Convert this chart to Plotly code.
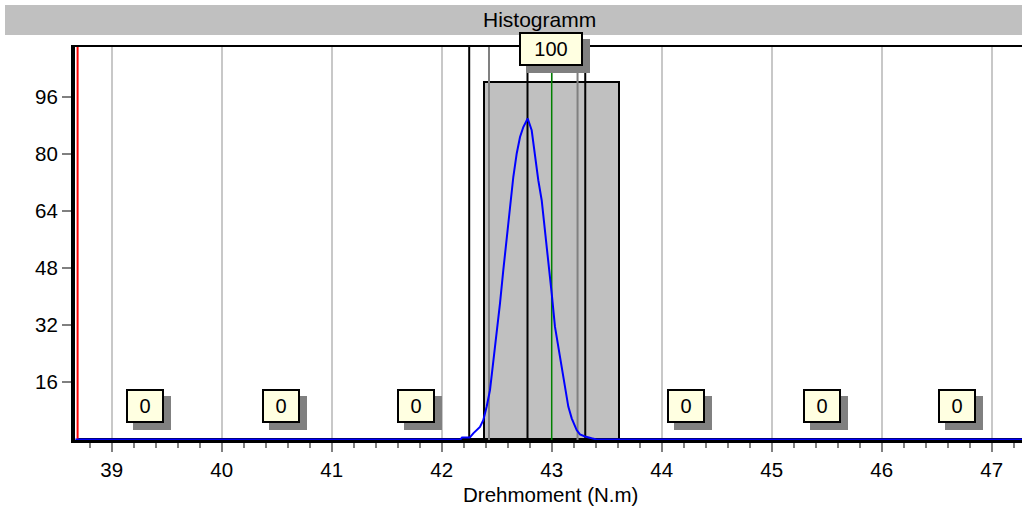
import plotly.graph_objects as go

# ---------------- data ----------------
bin_centers = [39.305, 40.535, 41.765, 42.995, 44.225, 45.455, 46.685]
counts = [0, 0, 0, 100, 0, 0, 0]
bin_width = 1.23

curve_x = [38.67, 42.17, 42.185, 42.255, 42.287, 42.348, 42.378, 42.409, 42.439, 42.469,
           42.50, 42.53, 42.56, 42.591, 42.621, 42.651, 42.682, 42.712, 42.742, 42.782,
           42.818, 42.848, 42.878, 42.909, 42.94, 42.97, 43.0, 43.03, 43.06, 43.091,
           43.121, 43.151, 43.182, 43.205, 43.227, 43.257, 43.303, 43.363, 43.408, 47.28]
curve_y = [0, 0, 0.5, 0.5, 1.7, 3.5, 5.4, 9.2, 13.8, 21.3,
           29.7, 38.1, 47.4, 56.7, 65.1, 73.5, 80.1, 84.7, 87.5, 89.9,
           86.6, 79.1, 72.6, 67.0, 58.6, 50.2, 40.9, 31.5, 25.9, 19.4,
           13.8, 9.2, 5.9, 4.0, 2.6, 1.4, 0.8, 0.3, 0, 0]

red_limit = 38.69
black_lines = [42.25, 42.78, 43.305]
gray_lines = [42.43, 43.235]
nominal = 43.0

x_ticks = [39, 40, 41, 42, 43, 44, 45, 46, 47]
y_ticks = [16, 32, 48, 64, 80, 96]

title_text = "Histogramm"
x_title = "Drehmoment (N.m)"

# ---------------- layout constants ----------------
W, H = 1022, 509
ML, MR, MT, MB = 75, 0, 46, 69
FONT = "Liberation Sans, Arial, sans-serif"
X_RANGE = [38.6664, 47.2755]
Y_RANGE = [-0.17, 110.2]
PW = W - ML - MR
PH = H - MT - MB


def px_to_paper_x(px):
    return (px - ML) / PW


def px_to_paper_y(py):
    return (H - MB - py) / PH


fig = go.Figure()

fig.add_trace(go.Bar(
    x=bin_centers, y=counts, width=bin_width,
    marker=dict(color="#C0C0C0", line=dict(color="black", width=2)),
    hoverinfo="skip", showlegend=False,
))

yl = [Y_RANGE[0] - 5, Y_RANGE[1] + 5]
for v in [red_limit]:
    fig.add_trace(go.Scatter(x=[v, v], y=yl, mode="lines",
                             line=dict(color="#FF0000", width=2),
                             hoverinfo="skip", showlegend=False))
for v in gray_lines:
    fig.add_trace(go.Scatter(x=[v, v], y=yl, mode="lines",
                             line=dict(color="#808080", width=2),
                             hoverinfo="skip", showlegend=False))
for v in black_lines:
    fig.add_trace(go.Scatter(x=[v, v], y=yl, mode="lines",
                             line=dict(color="black", width=2),
                             hoverinfo="skip", showlegend=False))
fig.add_trace(go.Scatter(x=[nominal, nominal], y=yl, mode="lines",
                         line=dict(color="#008000", width=1.5),
                         hoverinfo="skip", showlegend=False))

fig.add_trace(go.Scatter(x=curve_x, y=curve_y, mode="lines",
                         line=dict(color="#0000FF", width=2),
                         hoverinfo="skip", showlegend=False))

shapes = []
# title bar
shapes.append(dict(type="rect", xref="paper", yref="paper",
                   x0=px_to_paper_x(5), x1=1.05,
                   y0=px_to_paper_y(35), y1=px_to_paper_y(5),
                   fillcolor="#C0C0C0", line=dict(width=0), layer="above"))
# top border of the plot
shapes.append(dict(type="line", xref="paper", yref="paper",
                   x0=px_to_paper_x(71), x1=1.0, y0=1.0, y1=1.0,
                   line=dict(color="black", width=2), layer="above"))

annotations = []
LABEL_OFF = 33
SH = 7
for xc, c in zip(bin_centers, counts):
    txt = str(c)
    bw = 25 + 13 * len(txt)
    bh = 34
    # shadow
    annotations.append(dict(x=xc, y=c, xref="x", yref="y", text=" ",
                            showarrow=False, xshift=SH, yshift=LABEL_OFF - SH,
                            width=bw, height=bh, borderwidth=0, borderpad=0,
                            bgcolor="#808080",
                            xanchor="center", yanchor="middle",
                            font=dict(family=FONT, size=20, color="black")))
    # box with label
    annotations.append(dict(x=xc, y=c, xref="x", yref="y", text=txt,
                            showarrow=False, yshift=LABEL_OFF,
                            width=bw - 4, height=bh - 4, borderwidth=2, borderpad=0,
                            bgcolor="#FFFFE1", bordercolor="black",
                            xanchor="center", yanchor="middle", valign="middle",
                            font=dict(family=FONT, size=20, color="black")))

annotations.append(dict(x=px_to_paper_x(539), y=px_to_paper_y(20),
                        xref="paper", yref="paper", text=title_text,
                        showarrow=False, xanchor="center", yanchor="middle",
                        font=dict(family=FONT, size=21, color="black")))
annotations.append(dict(x=px_to_paper_x(550.5), y=px_to_paper_y(495),
                        xref="paper", yref="paper", text=x_title,
                        showarrow=False, xanchor="center", yanchor="middle",
                        font=dict(family=FONT, size=20.5, color="black")))

fig.update_layout(
    width=W, height=H,
    margin=dict(l=ML, r=MR, t=MT, b=MB, pad=0),
    paper_bgcolor="white", plot_bgcolor="white",
    showlegend=False, bargap=0,
    shapes=shapes, annotations=annotations,
    xaxis=dict(range=X_RANGE, tickvals=x_ticks, ticks="outside", ticklen=9,
               tickwidth=1.5, tickcolor="#808080",
               showline=True, linecolor="black", linewidth=3,
               showgrid=True, gridcolor="#C8C8C8", gridwidth=1.5,
               zeroline=False,
               minor=dict(dtick=0.2, tick0=38.8, ticks="outside", ticklen=5,
                          tickwidth=1.5, tickcolor="#808080", showgrid=False),
               tickfont=dict(family=FONT, size=20.5, color="black")),
    yaxis=dict(range=Y_RANGE, tickvals=y_ticks, ticks="outside", ticklen=9,
               tickwidth=1.5, tickcolor="#808080",
               showline=True, linecolor="black", linewidth=4,
               showgrid=False, zeroline=False,
               tickfont=dict(family=FONT, size=20.5, color="black")),
)

fig.write_html("out.html",
               config={"displayModeBar": False},
               post_script="document.body.style.margin='0px';"
                           "document.body.style.overflow='hidden';")
